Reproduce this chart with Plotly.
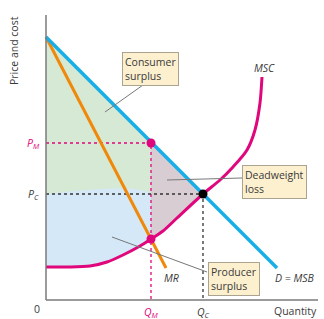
import plotly.graph_objects as go

# Data (quantity units on x, price units on y)
demand_x = [0, 231]
demand_y = [263, 32]
mr_x = [0, 120]
mr_y = [263, 32]
msc_x = [0, 22, 44, 61, 77, 94, 105, 117, 131, 157, 174, 187, 201, 209, 214, 216]
msc_y = [33, 33, 34, 38, 45, 54, 61, 69, 82, 106, 120, 133, 150, 170, 197, 223]
q_m, p_m = 105, 157
q_c, p_c = 157, 106
mr_at_qm = 61

# surplus regions
cs_x = [0, q_m, q_m, 0]
cs_y = [263, p_m, p_c, p_c]
ps_x = [0, q_m, q_m, 94, 77, 61, 44, 22, 0]
ps_y = [p_c, p_c, mr_at_qm, 54, 45, 38, 34, 33, 33]
dwl_x = [q_m, q_c, 131, 117, q_m]
dwl_y = [p_m, p_c, 82, 69, mr_at_qm]

BLUE = "#1aaee6"
ORANGE = "#f0880a"
PINK = "#e0067c"
FONT = "Open Sans"
TXT = "#3a3a3a"

fig = go.Figure()
fig.add_trace(go.Scatter(x=cs_x, y=cs_y, fill="toself", fillcolor="#d6e9d5",
                         line=dict(width=0), mode="lines", hoverinfo="skip"))
fig.add_trace(go.Scatter(x=ps_x, y=ps_y, fill="toself", fillcolor="#d4e8f7",
                         line=dict(width=0, shape="spline", smoothing=0.8), mode="lines", hoverinfo="skip"))
fig.add_trace(go.Scatter(x=dwl_x, y=dwl_y, fill="toself", fillcolor="#d9cdd4",
                         line=dict(width=0), mode="lines", hoverinfo="skip"))

# dotted guides
fig.add_trace(go.Scatter(x=[0, q_m, q_m], y=[p_m, p_m, 0], mode="lines",
                         line=dict(color=PINK, width=1.3, dash="dot")))
fig.add_trace(go.Scatter(x=[0, q_c, q_c], y=[p_c, p_c, 0], mode="lines",
                         line=dict(color="#333333", width=1.3, dash="dot")))

# curves
fig.add_trace(go.Scatter(x=msc_x, y=msc_y, mode="lines",
                         line=dict(color=PINK, width=3, shape="spline", smoothing=0.8)))
fig.add_trace(go.Scatter(x=mr_x, y=mr_y, mode="lines",
                         line=dict(color=ORANGE, width=3)))
fig.add_trace(go.Scatter(x=demand_x, y=demand_y, mode="lines",
                         line=dict(color=BLUE, width=3.5)))

# points
fig.add_trace(go.Scatter(x=[q_m, q_m], y=[p_m, mr_at_qm], mode="markers",
                         marker=dict(color=PINK, size=9)))
fig.add_trace(go.Scatter(x=[q_c], y=[p_c], mode="markers",
                         marker=dict(color="black", size=9)))

# axes
fig.add_shape(type="line", x0=0, y0=0, x1=272, y1=0, line=dict(color="#7a7a7a", width=1.5))
fig.add_shape(type="line", x0=0, y0=0, x1=0, y1=285, line=dict(color="#7a7a7a", width=1.5))

# pointer lines
fig.add_shape(type="line", x0=97, y0=215, x1=59, y1=188, line=dict(color="#777777", width=1))
fig.add_shape(type="line", x0=196, y0=122, x1=121, y1=120, line=dict(color="#777777", width=1))
fig.add_shape(type="line", x0=161, y0=28, x1=66, y1=63, line=dict(color="#777777", width=1))

def box(x, y, text):
    fig.add_annotation(x=x, y=y, text=text, showarrow=False, xanchor="left", yanchor="top",
                       align="left", bgcolor="#fdf0cf", bordercolor="#aaa38f", borderwidth=1,
                       borderpad=2, font=dict(family=FONT, size=10.5, color=TXT))

box(76, 248, "Consumer<br>surplus")
box(196, 135, "Deadweight<br>loss")
box(162, 38, "Producer<br>surplus")

def label(x, y, text, color=TXT, size=10.5, italic=False, xanchor="center"):
    fig.add_annotation(x=x, y=y, text=text, showarrow=False, xanchor=xanchor,
                       font=dict(family=FONT, size=size, color=color,
                                 style="italic" if italic else "normal"))

label(218, 232, "MSC", italic=True)
label(125, 22, "MR", italic=True)
label(249, 22, "D = MSB", italic=True)
label(249, -11, "Quantity")
label(-9, -9, "0")
label(-13, p_m, "P<sub>M</sub>", color=PINK, italic=True)
label(-13, p_c, "P<sub>C</sub>", italic=True)
label(q_m, -12, "Q<sub>M</sub>", color=PINK, italic=True)
label(q_c, -12, "Q<sub>C</sub>", italic=True)
fig.add_annotation(x=-32, y=249, text="Price and cost", showarrow=False, textangle=-90,
                   font=dict(family=FONT, size=10.5, color=TXT))

fig.update_layout(
    width=324, height=319, margin=dict(l=0, r=0, t=0, b=0),
    paper_bgcolor="white", plot_bgcolor="white", showlegend=False,
    xaxis=dict(range=[-46, 278], visible=False, fixedrange=True),
    yaxis=dict(range=[-19, 300], visible=False, fixedrange=True),
)
fig.write_html("out.html")
